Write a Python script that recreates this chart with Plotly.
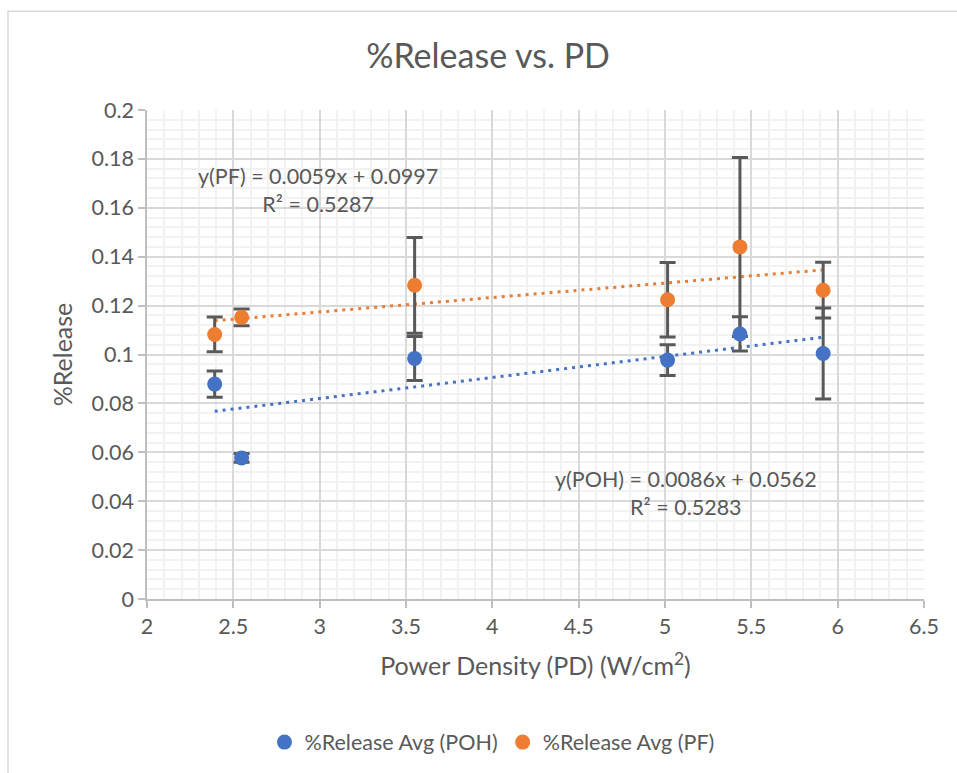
import plotly.graph_objects as go

# Power density (W/cm^2) for each sample
pd_poh = [2.392, 2.548, 3.55, 5.015, 5.434, 5.916]
pd_pf = [2.392, 2.548, 3.55, 5.015, 5.434, 5.916]

# Mean %Release and standard deviation
rel_poh = [0.0879, 0.0577, 0.0984, 0.0977, 0.1084, 0.1004]
err_poh = [0.0054, 0.0018, 0.0090, 0.0063, 0.0070, 0.0186]
rel_pf = [0.1082, 0.1152, 0.1283, 0.1224, 0.1440, 0.1263]
err_pf = [0.0071, 0.0034, 0.0196, 0.0152, 0.0366, 0.0114]

# Linear trendline coefficients (slope, intercept, R^2)
fit_poh = (0.0086, 0.0562, 0.5283)
fit_pf = (0.0059, 0.0997, 0.5287)

x_ticks = [2, 2.5, 3, 3.5, 4, 4.5, 5, 5.5, 6, 6.5]
y_ticks = [0, 0.02, 0.04, 0.06, 0.08, 0.1, 0.12, 0.14, 0.16, 0.18, 0.2]

BLUE = "#4472C4"
ORANGE = "#ED7D31"
TEXT = "#595959"
FONT = "Lato"

fig = go.Figure()


def trend(xs, coef):
    lo, hi = min(xs), max(xs)
    return [lo, hi], [coef[0] * lo + coef[1], coef[0] * hi + coef[1]]


# dotted trendlines
for xs, coef, col in [(pd_poh, fit_poh, BLUE), (pd_pf, fit_pf, ORANGE)]:
    tx, ty = trend(xs, coef)
    fig.add_trace(go.Scatter(
        x=tx, y=ty, mode="lines", showlegend=False, hoverinfo="skip",
        line=dict(color=col, width=3, dash="3px,5px"),
    ))

# error bars drawn beneath every marker
for xs, ys, es in [(pd_poh, rel_poh, err_poh), (pd_pf, rel_pf, err_pf)]:
    fig.add_trace(go.Scatter(
        x=xs, y=ys, mode="markers", showlegend=False, hoverinfo="skip",
        marker=dict(size=1, opacity=0),
        error_y=dict(type="data", array=es, visible=True,
                     color=TEXT, thickness=3, width=8),
    ))

# averaged data points
fig.add_trace(go.Scatter(
    x=pd_poh, y=rel_poh, mode="markers", name="%Release Avg (POH)",
    marker=dict(size=15, color=BLUE),
))
fig.add_trace(go.Scatter(
    x=pd_pf, y=rel_pf, mode="markers", name="%Release Avg (PF)",
    marker=dict(size=15, color=ORANGE),
))

# trendline equations
fig.add_annotation(
    x=2.99, y=0.1671, xref="x", yref="y", showarrow=False, align="center",
    text=f"y(PF) = {fit_pf[0]}x + {fit_pf[1]}<br>R² = {fit_pf[2]}",
    font=dict(family=FONT, size=21.5, color=TEXT),
)
fig.add_annotation(
    x=5.124, y=0.0435, xref="x", yref="y", showarrow=False, align="center",
    text=f"y(POH) = {fit_poh[0]}x + {fit_poh[1]}<br>R² = {fit_poh[2]}",
    font=dict(family=FONT, size=21.5, color=TEXT),
)

# chart area frame
fig.add_shape(
    type="rect", xref="paper", yref="paper",
    x0=-0.1789, x1=1.06, y0=-0.38, y1=1.202,
    line=dict(color="#d9d9d9", width=1.5), fillcolor="rgba(0,0,0,0)",
    layer="below",
)

axis_common = dict(
    showline=True, linecolor="#bfbfbf", linewidth=1.5,
    ticks="outside", tickcolor="#bfbfbf", ticklen=7, tickwidth=1.5,
    showgrid=True, gridcolor="#d9d9d9", gridwidth=1.5,
    zeroline=False,
    tickfont=dict(family=FONT, size=21.5, color=TEXT),
)

fig.update_layout(
    width=957, height=773,
    margin=dict(l=147, r=33, t=110, b=173),
    paper_bgcolor="white", plot_bgcolor="white",
    title=dict(
        text="%Release vs. PD", x=0.51, xref="container", xanchor="center",
        y=0.927, yref="container", yanchor="middle",
        font=dict(family=FONT, size=34, color=TEXT),
    ),
    xaxis=dict(
        range=[2, 6.5], tickvals=x_ticks,
        ticktext=[f"{v:g}" for v in x_ticks],
        minor=dict(dtick=0.1, showgrid=True, gridcolor="#f2f2f2", gridwidth=1.5),
        title=dict(text="Power Density (PD) (W/cm<sup>2</sup>)", standoff=20,
                   font=dict(family=FONT, size=25, color=TEXT)),
        **axis_common,
    ),
    yaxis=dict(
        range=[0, 0.2], tickvals=y_ticks,
        ticktext=[f"{v:g}" for v in y_ticks],
        minor=dict(dtick=0.004, showgrid=True, gridcolor="#f2f2f2", gridwidth=1.5),
        title=dict(text="%Release", standoff=12,
                   font=dict(family=FONT, size=25, color=TEXT)),
        **axis_common,
    ),
    legend=dict(
        orientation="h", x=0.444, xanchor="center", y=-0.29, yanchor="middle",
        font=dict(family=FONT, size=21.5, color=TEXT), itemwidth=30,
        bgcolor="rgba(0,0,0,0)",
    ),
    showlegend=True,
)

fig.write_html("out.html")
